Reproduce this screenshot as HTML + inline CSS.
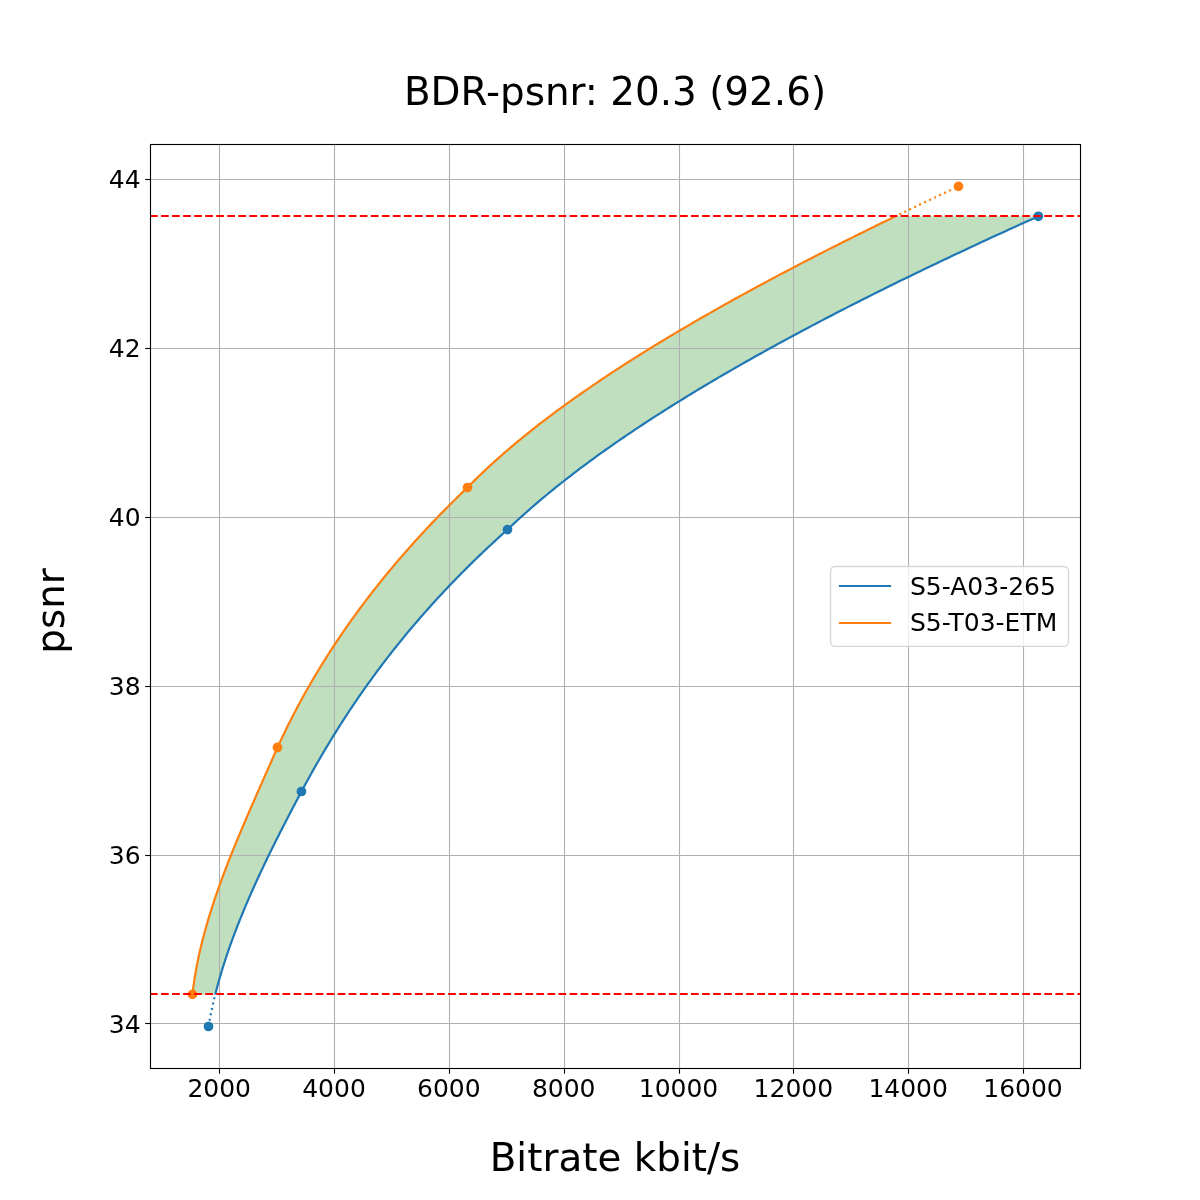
<!DOCTYPE html>
<html lang="en"><head><meta charset="utf-8"><title>BDR-psnr: 20.3 (92.6)</title>
<style>html,body{margin:0;padding:0;background:#fff;}body{width:1200px;height:1200px;overflow:hidden;}svg{display:block;}text{font-family:"DejaVu Sans","Liberation Sans",sans-serif;fill:#000;}</style></head><body>
<svg width="1200" height="1200" viewBox="0 0 1200 1200">
<rect x="0" y="0" width="1200" height="1200" fill="#ffffff"/>
<defs><clipPath id="ax"><rect x="150.5" y="144.5" width="930" height="924"/></clipPath></defs>
<g stroke="#000" stroke-width="1.11" fill="none">
<line x1="219.5" y1="1068.5" x2="219.5" y2="1073.7"/>
<line x1="334.5" y1="1068.5" x2="334.5" y2="1073.7"/>
<line x1="449.5" y1="1068.5" x2="449.5" y2="1073.7"/>
<line x1="564.5" y1="1068.5" x2="564.5" y2="1073.7"/>
<line x1="679.5" y1="1068.5" x2="679.5" y2="1073.7"/>
<line x1="793.5" y1="1068.5" x2="793.5" y2="1073.7"/>
<line x1="908.5" y1="1068.5" x2="908.5" y2="1073.7"/>
<line x1="1023.5" y1="1068.5" x2="1023.5" y2="1073.7"/>
<line x1="145.2" y1="1023.5" x2="150.5" y2="1023.5"/>
<line x1="145.2" y1="855.5" x2="150.5" y2="855.5"/>
<line x1="145.2" y1="686.5" x2="150.5" y2="686.5"/>
<line x1="145.2" y1="517.5" x2="150.5" y2="517.5"/>
<line x1="145.2" y1="348.5" x2="150.5" y2="348.5"/>
<line x1="145.2" y1="179.5" x2="150.5" y2="179.5"/>
</g>
<g font-size="25">
<text x="219.20" y="1097.3" text-anchor="middle">2000</text>
<text x="334.03" y="1097.3" text-anchor="middle">4000</text>
<text x="448.86" y="1097.3" text-anchor="middle">6000</text>
<text x="563.69" y="1097.3" text-anchor="middle">8000</text>
<text x="678.52" y="1097.3" text-anchor="middle">10000</text>
<text x="793.35" y="1097.3" text-anchor="middle">12000</text>
<text x="908.18" y="1097.3" text-anchor="middle">14000</text>
<text x="1023.01" y="1097.3" text-anchor="middle">16000</text>
<text x="140.6" y="1032.60" text-anchor="end">34</text>
<text x="140.6" y="863.74" text-anchor="end">36</text>
<text x="140.6" y="694.88" text-anchor="end">38</text>
<text x="140.6" y="526.02" text-anchor="end">40</text>
<text x="140.6" y="357.16" text-anchor="end">42</text>
<text x="140.6" y="188.30" text-anchor="end">44</text>
</g>
<g clip-path="url(#ax)">
<path d="M192.45 994.40 L192.75 991.80 L193.07 989.20 L193.40 986.59 L193.76 983.99 L194.14 981.39 L194.54 978.79 L194.95 976.18 L195.39 973.58 L195.84 970.98 L196.31 968.38 L196.80 965.77 L197.31 963.17 L197.83 960.57 L198.37 957.97 L198.93 955.36 L199.51 952.76 L200.10 950.16 L200.71 947.56 L201.34 944.96 L201.98 942.35 L202.64 939.75 L203.31 937.15 L204.00 934.55 L204.70 931.94 L205.42 929.34 L206.15 926.74 L206.89 924.14 L207.65 921.53 L208.43 918.93 L209.22 916.33 L210.02 913.73 L210.83 911.13 L211.66 908.52 L212.49 905.92 L213.34 903.32 L214.21 900.72 L215.08 898.11 L215.97 895.51 L216.87 892.91 L217.77 890.31 L218.69 887.70 L219.62 885.10 L220.56 882.50 L221.51 879.90 L222.47 877.29 L223.44 874.69 L224.42 872.09 L225.41 869.49 L226.41 866.89 L227.41 864.28 L228.43 861.68 L229.45 859.08 L230.48 856.48 L231.51 853.87 L232.56 851.27 L233.61 848.67 L234.67 846.07 L235.73 843.46 L236.81 840.86 L237.88 838.26 L238.97 835.66 L240.06 833.05 L241.15 830.45 L242.25 827.85 L243.36 825.25 L244.47 822.65 L245.58 820.04 L246.70 817.44 L247.82 814.84 L248.95 812.24 L250.08 809.63 L251.21 807.03 L252.35 804.43 L253.49 801.83 L254.63 799.22 L255.77 796.62 L256.91 794.02 L258.06 791.42 L259.21 788.82 L260.36 786.21 L261.51 783.61 L262.66 781.01 L263.82 778.41 L264.97 775.80 L266.12 773.20 L267.27 770.60 L268.43 768.00 L269.58 765.39 L270.73 762.79 L271.88 760.19 L273.02 757.59 L274.17 754.98 L275.32 752.38 L276.46 749.78 L277.60 747.18 L278.80 744.58 L280.01 741.97 L281.24 739.37 L282.47 736.77 L283.72 734.17 L284.98 731.56 L286.25 728.96 L287.54 726.36 L288.83 723.76 L290.14 721.15 L291.47 718.55 L292.80 715.95 L294.15 713.35 L295.51 710.74 L296.89 708.14 L298.27 705.54 L299.67 702.94 L301.09 700.34 L302.51 697.73 L303.95 695.13 L305.40 692.53 L306.87 689.93 L308.35 687.32 L309.84 684.72 L311.35 682.12 L312.87 679.52 L314.41 676.91 L315.95 674.31 L317.52 671.71 L319.09 669.11 L320.68 666.51 L322.29 663.90 L323.91 661.30 L325.54 658.70 L327.18 656.10 L328.85 653.49 L330.52 650.89 L332.21 648.29 L333.92 645.69 L335.63 643.08 L337.37 640.48 L339.12 637.88 L340.88 635.28 L342.66 632.67 L344.45 630.07 L346.26 627.47 L348.08 624.87 L349.92 622.27 L351.78 619.66 L353.65 617.06 L355.53 614.46 L357.43 611.86 L359.35 609.25 L361.28 606.65 L363.22 604.05 L365.18 601.45 L367.16 598.84 L369.16 596.24 L371.17 593.64 L373.19 591.04 L375.23 588.43 L377.29 585.83 L379.37 583.23 L381.46 580.63 L383.56 578.03 L385.69 575.42 L387.82 572.82 L389.98 570.22 L392.15 567.62 L394.34 565.01 L396.55 562.41 L398.77 559.81 L401.01 557.21 L403.27 554.60 L405.54 552.00 L407.83 549.40 L410.14 546.80 L412.46 544.19 L414.80 541.59 L417.16 538.99 L419.54 536.39 L421.93 533.79 L424.34 531.18 L426.77 528.58 L429.22 525.98 L431.68 523.38 L434.17 520.77 L436.67 518.17 L439.18 515.57 L441.72 512.97 L444.27 510.36 L446.85 507.76 L449.44 505.16 L452.04 502.56 L454.67 499.96 L457.32 497.35 L459.98 494.75 L462.66 492.15 L465.36 489.55 L468.04 486.94 L470.60 484.34 L473.20 481.74 L475.83 479.14 L478.50 476.53 L481.20 473.93 L483.94 471.33 L486.71 468.73 L489.52 466.12 L492.36 463.52 L495.23 460.92 L498.14 458.32 L501.09 455.72 L504.06 453.11 L507.08 450.51 L510.12 447.91 L513.20 445.31 L516.31 442.70 L519.46 440.10 L522.63 437.50 L525.85 434.90 L529.09 432.29 L532.36 429.69 L535.67 427.09 L539.01 424.49 L542.38 421.88 L545.79 419.28 L549.22 416.68 L552.69 414.08 L556.19 411.48 L559.72 408.87 L563.28 406.27 L566.87 403.67 L570.49 401.07 L574.14 398.46 L577.82 395.86 L581.53 393.26 L585.27 390.66 L589.05 388.05 L592.85 385.45 L596.68 382.85 L600.54 380.25 L604.43 377.65 L608.35 375.04 L612.29 372.44 L616.27 369.84 L620.27 367.24 L624.30 364.63 L628.36 362.03 L632.45 359.43 L636.57 356.83 L640.71 354.22 L644.88 351.62 L649.08 349.02 L653.31 346.42 L657.56 343.81 L661.84 341.21 L666.14 338.61 L670.48 336.01 L674.84 333.41 L679.22 330.80 L683.63 328.20 L688.07 325.60 L692.53 323.00 L697.02 320.39 L701.53 317.79 L706.07 315.19 L710.63 312.59 L715.22 309.98 L719.83 307.38 L724.47 304.78 L729.13 302.18 L733.81 299.57 L738.52 296.97 L743.26 294.37 L748.01 291.77 L752.79 289.17 L757.60 286.56 L762.42 283.96 L767.27 281.36 L772.14 278.76 L777.04 276.15 L781.96 273.55 L786.90 270.95 L791.86 268.35 L796.84 265.74 L801.85 263.14 L806.88 260.54 L811.93 257.94 L817.00 255.34 L822.09 252.73 L827.20 250.13 L832.33 247.53 L837.49 244.93 L842.66 242.32 L847.86 239.72 L853.07 237.12 L858.31 234.52 L863.56 231.91 L868.84 229.31 L874.13 226.71 L879.44 224.11 L884.78 221.50 L890.13 218.90 L895.50 216.30 L1038.30 216.30 L1032.51 218.90 L1026.73 221.50 L1020.98 224.11 L1015.24 226.71 L1009.52 229.31 L1003.82 231.91 L998.14 234.52 L992.48 237.12 L986.83 239.72 L981.21 242.32 L975.61 244.93 L970.02 247.53 L964.46 250.13 L958.91 252.73 L953.38 255.34 L947.88 257.94 L942.39 260.54 L936.93 263.14 L931.48 265.74 L926.06 268.35 L920.65 270.95 L915.27 273.55 L909.91 276.15 L904.57 278.76 L899.25 281.36 L893.95 283.96 L888.67 286.56 L883.41 289.17 L878.18 291.77 L872.97 294.37 L867.77 296.97 L862.61 299.57 L857.46 302.18 L852.33 304.78 L847.23 307.38 L842.15 309.98 L837.10 312.59 L832.06 315.19 L827.05 317.79 L822.06 320.39 L817.10 323.00 L812.15 325.60 L807.24 328.20 L802.34 330.80 L797.47 333.41 L792.62 336.01 L787.80 338.61 L783.00 341.21 L778.22 343.81 L773.47 346.42 L768.74 349.02 L764.04 351.62 L759.36 354.22 L754.71 356.83 L750.08 359.43 L745.48 362.03 L740.90 364.63 L736.34 367.24 L731.82 369.84 L727.31 372.44 L722.84 375.04 L718.39 377.65 L713.96 380.25 L709.56 382.85 L705.19 385.45 L700.84 388.05 L696.52 390.66 L692.23 393.26 L687.96 395.86 L683.72 398.46 L679.51 401.07 L675.32 403.67 L671.16 406.27 L667.03 408.87 L662.92 411.48 L658.85 414.08 L654.80 416.68 L650.78 419.28 L646.78 421.88 L642.82 424.49 L638.88 427.09 L634.97 429.69 L631.09 432.29 L627.23 434.90 L623.41 437.50 L619.61 440.10 L615.85 442.70 L612.11 445.31 L608.40 447.91 L604.72 450.51 L601.07 453.11 L597.45 455.72 L593.86 458.32 L590.30 460.92 L586.77 463.52 L583.27 466.12 L579.80 468.73 L576.36 471.33 L572.95 473.93 L569.57 476.53 L566.22 479.14 L562.90 481.74 L559.61 484.34 L556.35 486.94 L553.13 489.55 L549.93 492.15 L546.77 494.75 L543.64 497.35 L540.54 499.96 L537.47 502.56 L534.44 505.16 L531.43 507.76 L528.46 510.36 L525.52 512.97 L522.61 515.57 L519.74 518.17 L516.90 520.77 L514.09 523.38 L511.31 525.98 L508.57 528.58 L505.73 531.18 L502.84 533.79 L499.96 536.39 L497.11 538.99 L494.28 541.59 L491.47 544.19 L488.69 546.80 L485.92 549.40 L483.17 552.00 L480.45 554.60 L477.74 557.21 L475.05 559.81 L472.39 562.41 L469.74 565.01 L467.12 567.62 L464.51 570.22 L461.92 572.82 L459.35 575.42 L456.81 578.03 L454.28 580.63 L451.77 583.23 L449.27 585.83 L446.80 588.43 L444.35 591.04 L441.91 593.64 L439.50 596.24 L437.10 598.84 L434.72 601.45 L432.35 604.05 L430.01 606.65 L427.68 609.25 L425.37 611.86 L423.08 614.46 L420.81 617.06 L418.55 619.66 L416.31 622.27 L414.09 624.87 L411.88 627.47 L409.69 630.07 L407.52 632.67 L405.37 635.28 L403.23 637.88 L401.10 640.48 L399.00 643.08 L396.90 645.69 L394.83 648.29 L392.77 650.89 L390.73 653.49 L388.70 656.10 L386.69 658.70 L384.69 661.30 L382.71 663.90 L380.74 666.51 L378.79 669.11 L376.85 671.71 L374.93 674.31 L373.02 676.91 L371.12 679.52 L369.24 682.12 L367.38 684.72 L365.53 687.32 L363.69 689.93 L361.86 692.53 L360.05 695.13 L358.26 697.73 L356.47 700.34 L354.70 702.94 L352.95 705.54 L351.20 708.14 L349.47 710.74 L347.75 713.35 L346.05 715.95 L344.35 718.55 L342.67 721.15 L341.00 723.76 L339.35 726.36 L337.70 728.96 L336.07 731.56 L334.45 734.17 L332.84 736.77 L331.24 739.37 L329.66 741.97 L328.08 744.58 L326.52 747.18 L324.96 749.78 L323.42 752.38 L321.89 754.98 L320.37 757.59 L318.86 760.19 L317.36 762.79 L315.87 765.39 L314.39 768.00 L312.92 770.60 L311.46 773.20 L310.01 775.80 L308.57 778.41 L307.14 781.01 L305.72 783.61 L304.31 786.21 L302.91 788.82 L301.51 791.42 L300.13 794.02 L298.75 796.62 L297.37 799.22 L296.00 801.83 L294.63 804.43 L293.26 807.03 L291.89 809.63 L290.53 812.24 L289.18 814.84 L287.83 817.44 L286.48 820.04 L285.14 822.65 L283.80 825.25 L282.47 827.85 L281.14 830.45 L279.81 833.05 L278.50 835.66 L277.19 838.26 L275.88 840.86 L274.58 843.46 L273.29 846.07 L272.00 848.67 L270.72 851.27 L269.44 853.87 L268.18 856.48 L266.91 859.08 L265.66 861.68 L264.42 864.28 L263.18 866.89 L261.95 869.49 L260.72 872.09 L259.51 874.69 L258.30 877.29 L257.10 879.90 L255.91 882.50 L254.73 885.10 L253.56 887.70 L252.40 890.31 L251.24 892.91 L250.10 895.51 L248.96 898.11 L247.84 900.72 L246.72 903.32 L245.61 905.92 L244.52 908.52 L243.44 911.13 L242.36 913.73 L241.30 916.33 L240.25 918.93 L239.20 921.53 L238.17 924.14 L237.16 926.74 L236.15 929.34 L235.15 931.94 L234.17 934.55 L233.20 937.15 L232.24 939.75 L231.30 942.35 L230.36 944.96 L229.44 947.56 L228.53 950.16 L227.64 952.76 L226.76 955.36 L225.89 957.97 L225.04 960.57 L224.20 963.17 L223.37 965.77 L222.56 968.38 L221.76 970.98 L220.98 973.58 L220.21 976.18 L219.46 978.79 L218.72 981.39 L218.00 983.99 L217.29 986.59 L216.60 989.20 L215.92 991.80 L215.26 994.40Z" fill="#008000" fill-opacity="0.25" stroke="none"/>
<g stroke="#b0b0b0" stroke-width="1.11" fill="none">
<line x1="219.5" y1="144.5" x2="219.5" y2="1068.5"/>
<line x1="334.5" y1="144.5" x2="334.5" y2="1068.5"/>
<line x1="449.5" y1="144.5" x2="449.5" y2="1068.5"/>
<line x1="564.5" y1="144.5" x2="564.5" y2="1068.5"/>
<line x1="679.5" y1="144.5" x2="679.5" y2="1068.5"/>
<line x1="793.5" y1="144.5" x2="793.5" y2="1068.5"/>
<line x1="908.5" y1="144.5" x2="908.5" y2="1068.5"/>
<line x1="1023.5" y1="144.5" x2="1023.5" y2="1068.5"/>
<line x1="150.5" y1="1023.5" x2="1080.5" y2="1023.5"/>
<line x1="150.5" y1="855.5" x2="1080.5" y2="855.5"/>
<line x1="150.5" y1="686.5" x2="1080.5" y2="686.5"/>
<line x1="150.5" y1="517.5" x2="1080.5" y2="517.5"/>
<line x1="150.5" y1="348.5" x2="1080.5" y2="348.5"/>
<line x1="150.5" y1="179.5" x2="1080.5" y2="179.5"/>
</g>
<g fill="none" stroke-width="2.2" stroke-linejoin="round">
<path d="M215.26 994.40 L215.06 995.22 L214.85 996.05 L214.65 996.87 L214.45 997.69 L214.25 998.52 L214.05 999.34 L213.86 1000.16 L213.67 1000.98 L213.47 1001.81 L213.28 1002.63 L213.09 1003.45 L212.91 1004.28 L212.72 1005.10 L212.54 1005.92 L212.35 1006.75 L212.17 1007.57 L211.99 1008.39 L211.82 1009.22 L211.64 1010.04 L211.47 1010.86 L211.30 1011.68 L211.13 1012.51 L210.96 1013.33 L210.79 1014.15 L210.63 1014.98 L210.46 1015.80 L210.30 1016.62 L210.14 1017.45 L209.98 1018.27 L209.83 1019.09 L209.67 1019.92 L209.52 1020.74 L209.37 1021.56 L209.22 1022.38 L209.07 1023.21 L208.93 1024.03 L208.78 1024.85 L208.64 1025.68 L208.50 1026.50" stroke="#1f77b4" stroke-dasharray="2.08 3.44" stroke-dashoffset="2.7"/>
<path d="M215.26 994.40 L215.92 991.80 L216.60 989.20 L217.29 986.59 L218.00 983.99 L218.72 981.39 L219.46 978.79 L220.21 976.18 L220.98 973.58 L221.76 970.98 L222.56 968.38 L223.37 965.77 L224.20 963.17 L225.04 960.57 L225.89 957.97 L226.76 955.36 L227.64 952.76 L228.53 950.16 L229.44 947.56 L230.36 944.96 L231.30 942.35 L232.24 939.75 L233.20 937.15 L234.17 934.55 L235.15 931.94 L236.15 929.34 L237.16 926.74 L238.17 924.14 L239.20 921.53 L240.25 918.93 L241.30 916.33 L242.36 913.73 L243.44 911.13 L244.52 908.52 L245.61 905.92 L246.72 903.32 L247.84 900.72 L248.96 898.11 L250.10 895.51 L251.24 892.91 L252.40 890.31 L253.56 887.70 L254.73 885.10 L255.91 882.50 L257.10 879.90 L258.30 877.29 L259.51 874.69 L260.72 872.09 L261.95 869.49 L263.18 866.89 L264.42 864.28 L265.66 861.68 L266.91 859.08 L268.18 856.48 L269.44 853.87 L270.72 851.27 L272.00 848.67 L273.29 846.07 L274.58 843.46 L275.88 840.86 L277.19 838.26 L278.50 835.66 L279.81 833.05 L281.14 830.45 L282.47 827.85 L283.80 825.25 L285.14 822.65 L286.48 820.04 L287.83 817.44 L289.18 814.84 L290.53 812.24 L291.89 809.63 L293.26 807.03 L294.63 804.43 L296.00 801.83 L297.37 799.22 L298.75 796.62 L300.13 794.02 L301.51 791.42 L302.91 788.82 L304.31 786.21 L305.72 783.61 L307.14 781.01 L308.57 778.41 L310.01 775.80 L311.46 773.20 L312.92 770.60 L314.39 768.00 L315.87 765.39 L317.36 762.79 L318.86 760.19 L320.37 757.59 L321.89 754.98 L323.42 752.38 L324.96 749.78 L326.52 747.18 L328.08 744.58 L329.66 741.97 L331.24 739.37 L332.84 736.77 L334.45 734.17 L336.07 731.56 L337.70 728.96 L339.35 726.36 L341.00 723.76 L342.67 721.15 L344.35 718.55 L346.05 715.95 L347.75 713.35 L349.47 710.74 L351.20 708.14 L352.95 705.54 L354.70 702.94 L356.47 700.34 L358.26 697.73 L360.05 695.13 L361.86 692.53 L363.69 689.93 L365.53 687.32 L367.38 684.72 L369.24 682.12 L371.12 679.52 L373.02 676.91 L374.93 674.31 L376.85 671.71 L378.79 669.11 L380.74 666.51 L382.71 663.90 L384.69 661.30 L386.69 658.70 L388.70 656.10 L390.73 653.49 L392.77 650.89 L394.83 648.29 L396.90 645.69 L399.00 643.08 L401.10 640.48 L403.23 637.88 L405.37 635.28 L407.52 632.67 L409.69 630.07 L411.88 627.47 L414.09 624.87 L416.31 622.27 L418.55 619.66 L420.81 617.06 L423.08 614.46 L425.37 611.86 L427.68 609.25 L430.01 606.65 L432.35 604.05 L434.72 601.45 L437.10 598.84 L439.50 596.24 L441.91 593.64 L444.35 591.04 L446.80 588.43 L449.27 585.83 L451.77 583.23 L454.28 580.63 L456.81 578.03 L459.35 575.42 L461.92 572.82 L464.51 570.22 L467.12 567.62 L469.74 565.01 L472.39 562.41 L475.05 559.81 L477.74 557.21 L480.45 554.60 L483.17 552.00 L485.92 549.40 L488.69 546.80 L491.47 544.19 L494.28 541.59 L497.11 538.99 L499.96 536.39 L502.84 533.79 L505.73 531.18 L508.57 528.58 L511.31 525.98 L514.09 523.38 L516.90 520.77 L519.74 518.17 L522.61 515.57 L525.52 512.97 L528.46 510.36 L531.43 507.76 L534.44 505.16 L537.47 502.56 L540.54 499.96 L543.64 497.35 L546.77 494.75 L549.93 492.15 L553.13 489.55 L556.35 486.94 L559.61 484.34 L562.90 481.74 L566.22 479.14 L569.57 476.53 L572.95 473.93 L576.36 471.33 L579.80 468.73 L583.27 466.12 L586.77 463.52 L590.30 460.92 L593.86 458.32 L597.45 455.72 L601.07 453.11 L604.72 450.51 L608.40 447.91 L612.11 445.31 L615.85 442.70 L619.61 440.10 L623.41 437.50 L627.23 434.90 L631.09 432.29 L634.97 429.69 L638.88 427.09 L642.82 424.49 L646.78 421.88 L650.78 419.28 L654.80 416.68 L658.85 414.08 L662.92 411.48 L667.03 408.87 L671.16 406.27 L675.32 403.67 L679.51 401.07 L683.72 398.46 L687.96 395.86 L692.23 393.26 L696.52 390.66 L700.84 388.05 L705.19 385.45 L709.56 382.85 L713.96 380.25 L718.39 377.65 L722.84 375.04 L727.31 372.44 L731.82 369.84 L736.34 367.24 L740.90 364.63 L745.48 362.03 L750.08 359.43 L754.71 356.83 L759.36 354.22 L764.04 351.62 L768.74 349.02 L773.47 346.42 L778.22 343.81 L783.00 341.21 L787.80 338.61 L792.62 336.01 L797.47 333.41 L802.34 330.80 L807.24 328.20 L812.15 325.60 L817.10 323.00 L822.06 320.39 L827.05 317.79 L832.06 315.19 L837.10 312.59 L842.15 309.98 L847.23 307.38 L852.33 304.78 L857.46 302.18 L862.61 299.57 L867.77 296.97 L872.97 294.37 L878.18 291.77 L883.41 289.17 L888.67 286.56 L893.95 283.96 L899.25 281.36 L904.57 278.76 L909.91 276.15 L915.27 273.55 L920.65 270.95 L926.06 268.35 L931.48 265.74 L936.93 263.14 L942.39 260.54 L947.88 257.94 L953.38 255.34 L958.91 252.73 L964.46 250.13 L970.02 247.53 L975.61 244.93 L981.21 242.32 L986.83 239.72 L992.48 237.12 L998.14 234.52 L1003.82 231.91 L1009.52 229.31 L1015.24 226.71 L1020.98 224.11 L1026.73 221.50 L1032.51 218.90 L1038.30 216.30" stroke="#1f77b4"/>
<path d="M895.50 216.30 L897.08 215.53 L898.67 214.77 L900.26 214.00 L901.85 213.23 L903.44 212.47 L905.04 211.70 L906.63 210.93 L908.23 210.17 L909.83 209.40 L911.43 208.63 L913.03 207.87 L914.63 207.10 L916.24 206.33 L917.84 205.57 L919.45 204.80 L921.06 204.03 L922.67 203.27 L924.28 202.50 L925.90 201.73 L927.51 200.97 L929.13 200.20 L930.75 199.43 L932.37 198.67 L933.99 197.90 L935.62 197.13 L937.24 196.37 L938.87 195.60 L940.49 194.83 L942.12 194.07 L943.76 193.30 L945.39 192.53 L947.02 191.77 L948.66 191.00 L950.29 190.23 L951.93 189.47 L953.57 188.70 L955.21 187.93 L956.86 187.17 L958.50 186.40" stroke="#ff7f0e" stroke-dasharray="2.08 3.44" stroke-dashoffset="1.35"/>
<path d="M192.45 994.40 L192.75 991.80 L193.07 989.20 L193.40 986.59 L193.76 983.99 L194.14 981.39 L194.54 978.79 L194.95 976.18 L195.39 973.58 L195.84 970.98 L196.31 968.38 L196.80 965.77 L197.31 963.17 L197.83 960.57 L198.37 957.97 L198.93 955.36 L199.51 952.76 L200.10 950.16 L200.71 947.56 L201.34 944.96 L201.98 942.35 L202.64 939.75 L203.31 937.15 L204.00 934.55 L204.70 931.94 L205.42 929.34 L206.15 926.74 L206.89 924.14 L207.65 921.53 L208.43 918.93 L209.22 916.33 L210.02 913.73 L210.83 911.13 L211.66 908.52 L212.49 905.92 L213.34 903.32 L214.21 900.72 L215.08 898.11 L215.97 895.51 L216.87 892.91 L217.77 890.31 L218.69 887.70 L219.62 885.10 L220.56 882.50 L221.51 879.90 L222.47 877.29 L223.44 874.69 L224.42 872.09 L225.41 869.49 L226.41 866.89 L227.41 864.28 L228.43 861.68 L229.45 859.08 L230.48 856.48 L231.51 853.87 L232.56 851.27 L233.61 848.67 L234.67 846.07 L235.73 843.46 L236.81 840.86 L237.88 838.26 L238.97 835.66 L240.06 833.05 L241.15 830.45 L242.25 827.85 L243.36 825.25 L244.47 822.65 L245.58 820.04 L246.70 817.44 L247.82 814.84 L248.95 812.24 L250.08 809.63 L251.21 807.03 L252.35 804.43 L253.49 801.83 L254.63 799.22 L255.77 796.62 L256.91 794.02 L258.06 791.42 L259.21 788.82 L260.36 786.21 L261.51 783.61 L262.66 781.01 L263.82 778.41 L264.97 775.80 L266.12 773.20 L267.27 770.60 L268.43 768.00 L269.58 765.39 L270.73 762.79 L271.88 760.19 L273.02 757.59 L274.17 754.98 L275.32 752.38 L276.46 749.78 L277.60 747.18 L278.80 744.58 L280.01 741.97 L281.24 739.37 L282.47 736.77 L283.72 734.17 L284.98 731.56 L286.25 728.96 L287.54 726.36 L288.83 723.76 L290.14 721.15 L291.47 718.55 L292.80 715.95 L294.15 713.35 L295.51 710.74 L296.89 708.14 L298.27 705.54 L299.67 702.94 L301.09 700.34 L302.51 697.73 L303.95 695.13 L305.40 692.53 L306.87 689.93 L308.35 687.32 L309.84 684.72 L311.35 682.12 L312.87 679.52 L314.41 676.91 L315.95 674.31 L317.52 671.71 L319.09 669.11 L320.68 666.51 L322.29 663.90 L323.91 661.30 L325.54 658.70 L327.18 656.10 L328.85 653.49 L330.52 650.89 L332.21 648.29 L333.92 645.69 L335.63 643.08 L337.37 640.48 L339.12 637.88 L340.88 635.28 L342.66 632.67 L344.45 630.07 L346.26 627.47 L348.08 624.87 L349.92 622.27 L351.78 619.66 L353.65 617.06 L355.53 614.46 L357.43 611.86 L359.35 609.25 L361.28 606.65 L363.22 604.05 L365.18 601.45 L367.16 598.84 L369.16 596.24 L371.17 593.64 L373.19 591.04 L375.23 588.43 L377.29 585.83 L379.37 583.23 L381.46 580.63 L383.56 578.03 L385.69 575.42 L387.82 572.82 L389.98 570.22 L392.15 567.62 L394.34 565.01 L396.55 562.41 L398.77 559.81 L401.01 557.21 L403.27 554.60 L405.54 552.00 L407.83 549.40 L410.14 546.80 L412.46 544.19 L414.80 541.59 L417.16 538.99 L419.54 536.39 L421.93 533.79 L424.34 531.18 L426.77 528.58 L429.22 525.98 L431.68 523.38 L434.17 520.77 L436.67 518.17 L439.18 515.57 L441.72 512.97 L444.27 510.36 L446.85 507.76 L449.44 505.16 L452.04 502.56 L454.67 499.96 L457.32 497.35 L459.98 494.75 L462.66 492.15 L465.36 489.55 L468.04 486.94 L470.60 484.34 L473.20 481.74 L475.83 479.14 L478.50 476.53 L481.20 473.93 L483.94 471.33 L486.71 468.73 L489.52 466.12 L492.36 463.52 L495.23 460.92 L498.14 458.32 L501.09 455.72 L504.06 453.11 L507.08 450.51 L510.12 447.91 L513.20 445.31 L516.31 442.70 L519.46 440.10 L522.63 437.50 L525.85 434.90 L529.09 432.29 L532.36 429.69 L535.67 427.09 L539.01 424.49 L542.38 421.88 L545.79 419.28 L549.22 416.68 L552.69 414.08 L556.19 411.48 L559.72 408.87 L563.28 406.27 L566.87 403.67 L570.49 401.07 L574.14 398.46 L577.82 395.86 L581.53 393.26 L585.27 390.66 L589.05 388.05 L592.85 385.45 L596.68 382.85 L600.54 380.25 L604.43 377.65 L608.35 375.04 L612.29 372.44 L616.27 369.84 L620.27 367.24 L624.30 364.63 L628.36 362.03 L632.45 359.43 L636.57 356.83 L640.71 354.22 L644.88 351.62 L649.08 349.02 L653.31 346.42 L657.56 343.81 L661.84 341.21 L666.14 338.61 L670.48 336.01 L674.84 333.41 L679.22 330.80 L683.63 328.20 L688.07 325.60 L692.53 323.00 L697.02 320.39 L701.53 317.79 L706.07 315.19 L710.63 312.59 L715.22 309.98 L719.83 307.38 L724.47 304.78 L729.13 302.18 L733.81 299.57 L738.52 296.97 L743.26 294.37 L748.01 291.77 L752.79 289.17 L757.60 286.56 L762.42 283.96 L767.27 281.36 L772.14 278.76 L777.04 276.15 L781.96 273.55 L786.90 270.95 L791.86 268.35 L796.84 265.74 L801.85 263.14 L806.88 260.54 L811.93 257.94 L817.00 255.34 L822.09 252.73 L827.20 250.13 L832.33 247.53 L837.49 244.93 L842.66 242.32 L847.86 239.72 L853.07 237.12 L858.31 234.52 L863.56 231.91 L868.84 229.31 L874.13 226.71 L879.44 224.11 L884.78 221.50 L890.13 218.90 L895.50 216.30" stroke="#ff7f0e"/>
</g>
<circle cx="208.50" cy="1026.50" r="4.86" fill="#1f77b4"/>
<circle cx="301.47" cy="791.50" r="4.86" fill="#1f77b4"/>
<circle cx="507.50" cy="529.60" r="4.86" fill="#1f77b4"/>
<circle cx="1038.30" cy="216.30" r="4.86" fill="#1f77b4"/>
<circle cx="192.45" cy="994.40" r="4.86" fill="#ff7f0e"/>
<circle cx="277.47" cy="747.47" r="4.86" fill="#ff7f0e"/>
<circle cx="467.50" cy="487.50" r="4.86" fill="#ff7f0e"/>
<circle cx="958.50" cy="186.40" r="4.86" fill="#ff7f0e"/>
<g stroke="#ff0000" stroke-width="2.08" stroke-dasharray="7.708 3.333" fill="none">
<line x1="150" y1="994" x2="1080" y2="994"/>
<line x1="150" y1="216" x2="1080" y2="216"/>
</g>
</g>
<rect x="150.5" y="144.5" width="930" height="924" fill="none" stroke="#000" stroke-width="1.11" stroke-linejoin="miter"/>
<rect x="830.5" y="566.5" width="238" height="79.9" rx="4.6" ry="4.6" fill="#ffffff" fill-opacity="0.8" stroke="#cccccc" stroke-opacity="0.8" stroke-width="1.39"/>
<line x1="840" y1="586" x2="890" y2="586" stroke="#1f77b4" stroke-width="2.2" stroke-linecap="square"/>
<line x1="840" y1="623" x2="890" y2="623" stroke="#ff7f0e" stroke-width="2.2" stroke-linecap="square"/>
<text x="910" y="594.5" font-size="25">S5-A03-265</text>
<text x="910" y="631.3" font-size="25">S5-T03-ETM</text>
<text x="615" y="104.8" font-size="38.89" text-anchor="middle">BDR-psnr: 20.3 (92.6)</text>
<text x="615" y="1170.8" font-size="38.89" text-anchor="middle">Bitrate kbit/s</text>
<text transform="translate(64 611) rotate(-90)" font-size="38.89" text-anchor="middle">psnr</text>
</svg></body></html>
